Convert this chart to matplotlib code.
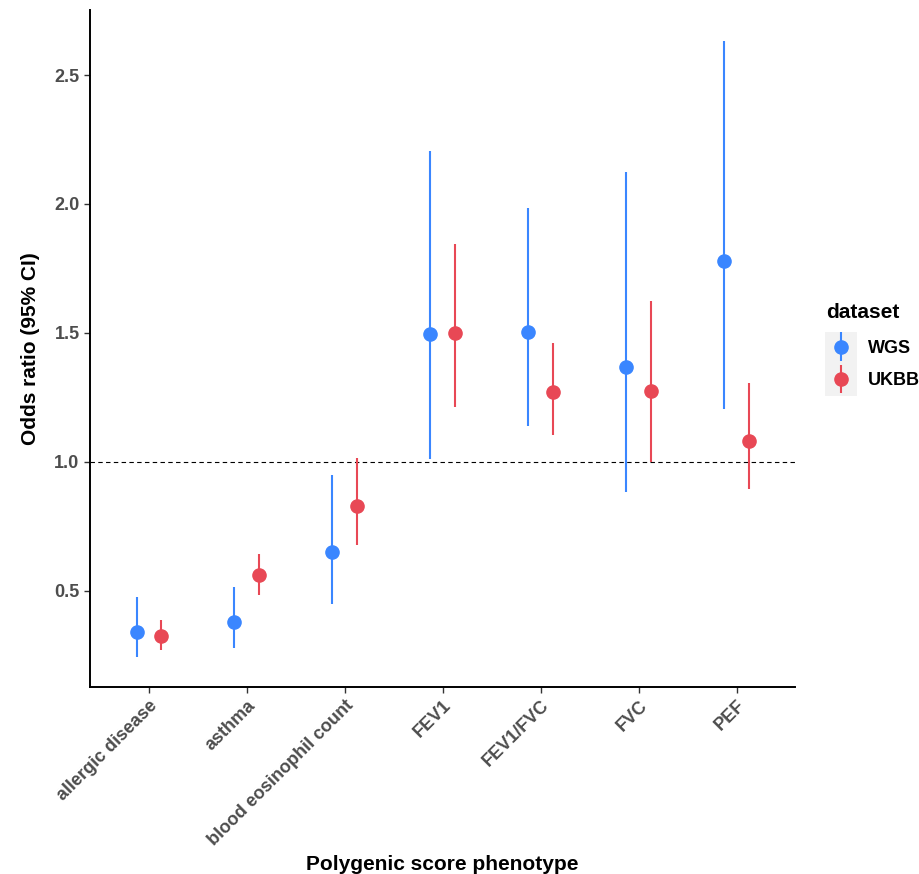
import matplotlib
matplotlib.use("Agg")
import matplotlib.pyplot as plt
from matplotlib.patches import Rectangle
from matplotlib.legend_handler import HandlerErrorbar
import numpy as np

plt.rcParams['font.family'] = ['Liberation Sans', 'DejaVu Sans']

categories = ["allergic disease", "asthma", "blood eosinophil count", "FEV1",
              "FEV1/FVC", "FVC", "PEF"]
datasets = ["WGS", "UKBB"]
colors = {"WGS": "#3A86FF", "UKBB": "#E84855"}

wgs_or = [0.341, 0.377, 0.651, 1.495, 1.503, 1.366, 1.780]
wgs_lo = [0.244, 0.276, 0.447, 1.012, 1.137, 0.881, 1.203]
wgs_hi = [0.477, 0.516, 0.947, 2.206, 1.986, 2.123, 2.634]

ukbb_or = [0.323, 0.559, 0.830, 1.498, 1.269, 1.276, 1.080]
ukbb_lo = [0.271, 0.485, 0.678, 1.213, 1.103, 1.000, 0.894]
ukbb_hi = [0.387, 0.644, 1.016, 1.846, 1.460, 1.623, 1.305]

values = {"WGS": (wgs_or, wgs_lo, wgs_hi), "UKBB": (ukbb_or, ukbb_lo, ukbb_hi)}
offsets = {"WGS": -0.125, "UKBB": 0.125}

W, H = 920, 874
fig = plt.figure(figsize=(W / 100, H / 100), dpi=100)
ax = fig.add_axes([90 / W, (H - 686.7) / H, (795.3 - 90) / W, (686.7 - 10) / H])

x = np.arange(1, len(categories) + 1)
handles = []
for d in datasets:
    o, lo, hi = (np.array(v) for v in values[d])
    h = ax.errorbar(x + offsets[d], o, yerr=[o - lo, hi - o], fmt='o',
                    color=colors[d], ecolor=colors[d], elinewidth=1.5,
                    markersize=9.5, capsize=0, label=d, zorder=3)
    handles.append(h)

ax.axhline(1.0, color='black', linestyle=(0, (4, 3)), linewidth=0.8, zorder=1)

ax.set_xlim(0.4, 7.6)
ax.set_ylim(0.1275, 2.7525)
ax.set_yticks([0.5, 1.0, 1.5, 2.0, 2.5])
ax.set_yticklabels(["0.5", "1.0", "1.5", "2.0", "2.5"])
ax.set_xticks(x)
ax.set_xticklabels(categories, rotation=45, ha='right', va='top',
                   rotation_mode='anchor')

for s in ['top', 'right']:
    ax.spines[s].set_visible(False)
for s in ['left', 'bottom']:
    ax.spines[s].set_linewidth(1.4)
    ax.spines[s].set_color('black')

ax.tick_params(axis='both', colors='#333333', labelcolor='#4D4D4D',
               labelsize=13, length=4, width=1.0)
for lab in ax.get_xticklabels() + ax.get_yticklabels():
    lab.set_fontweight('bold')

ax.set_xlabel("Polygenic score phenotype", fontsize=15, fontweight='bold',
              color='black', labelpad=4)
ax.set_ylabel("Odds ratio (95% CI)", fontsize=15, fontweight='bold',
              color='black', labelpad=10)

# legend key background
fig.patches.append(Rectangle((825 / W, (H - 396) / H), 32 / W, 64 / H,
                             transform=fig.transFigure, facecolor='#F2F2F2',
                             edgecolor='none', zorder=0))
fig.text(826 / W, (H - 312) / H, "dataset", fontsize=15, fontweight='bold',
         ha='left', va='center')
leg = fig.legend(handles=handles, labels=datasets, loc='center left',
                 bbox_to_anchor=(824.8 / W, (H - 364.5) / H), frameon=False,
                 handlelength=1.0, handletextpad=1.0,
                 labelspacing=0.85, borderaxespad=0,
                 handler_map={type(handles[0]): HandlerErrorbar(yerr_size=0.78)},
                 prop={'weight': 'bold', 'size': 13})

fig.savefig("out.png", dpi=100)
